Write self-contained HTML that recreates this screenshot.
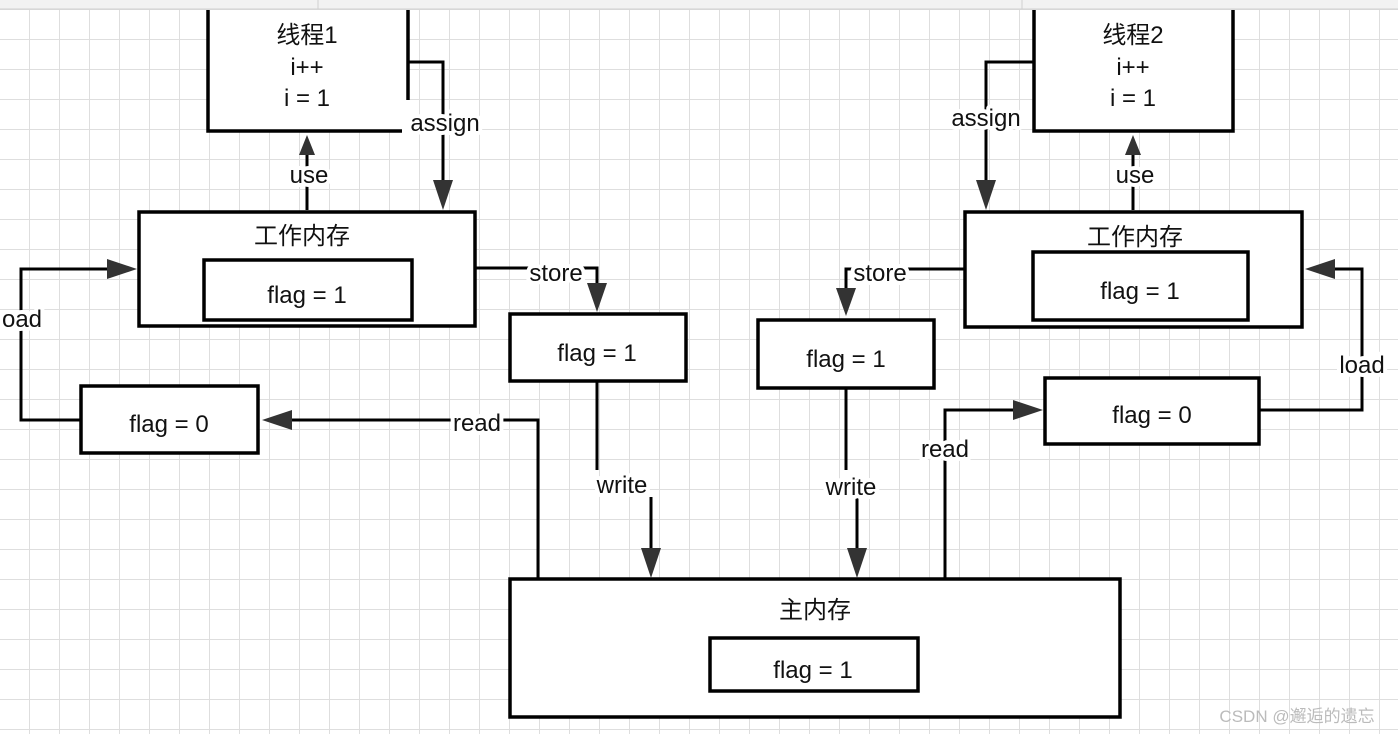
<!DOCTYPE html>
<html><head><meta charset="utf-8"><style>
html,body{margin:0;padding:0;background:#fff;}
svg{display:block;}
text{font-family:"Liberation Sans","Noto Sans CJK SC",sans-serif;font-size:24px;fill:#111;text-anchor:middle;}
.lb{paint-order:stroke;stroke:#fff;stroke-width:8px;stroke-linejoin:round;}
</style></head><body>
<svg width="1398" height="734" viewBox="0 0 1398 734" xmlns="http://www.w3.org/2000/svg">
<defs>
<pattern id="g" x="0" y="10" width="30" height="30" patternUnits="userSpaceOnUse">
<path d="M30 0V30M0 30H30" stroke="#dedede" stroke-width="2" fill="none"/>
</pattern>
</defs>
<rect width="1398" height="734" fill="url(#g)"/>
<rect width="1398" height="9" fill="#f2f2f2"/>
<line x1="0" y1="9" x2="1398" y2="9" stroke="#d0d0d0" stroke-width="1"/>
<line x1="318" y1="0" x2="318" y2="9" stroke="#d0d0d0"/>
<line x1="1022" y1="0" x2="1022" y2="9" stroke="#d0d0d0"/>
<rect x="208" y="10" width="200" height="121" fill="#fff"/>
<rect x="1034" y="10" width="199" height="121" fill="#fff"/>
<g stroke="#000" stroke-width="3.5" fill="none">
<path d="M208 10V131H402M408 10V100"/>
<path d="M1034 10V131H1233V10"/>
</g>
<g stroke="#000" stroke-width="3.5" fill="#fff">
<rect x="139" y="212" width="336" height="114"/>
<rect x="204" y="260" width="208" height="60"/>
<rect x="965" y="212" width="337" height="115"/>
<rect x="1033" y="252" width="215" height="68"/>
<rect x="510" y="314" width="176" height="67"/>
<rect x="758" y="320" width="176" height="68"/>
<rect x="81" y="386" width="177" height="67"/>
<rect x="1045" y="378" width="214" height="66"/>
<rect x="510" y="579" width="610" height="138"/>
<rect x="710" y="638" width="208" height="53"/>
</g>
<g stroke="#000" stroke-width="3" fill="none">
<path d="M408 62H443V200"/>
<path d="M1033 62H986V185"/>
<path d="M307 210V150"/>
<path d="M1133 210V150"/>
<path d="M475 268H597V290"/>
<path d="M965 269H846V295"/>
<path d="M597 381V470"/>
<path d="M651 497V560"/>
<path d="M846 388V470"/>
<path d="M857 497V560"/>
<path d="M538 578V420H290"/>
<path d="M945 578V410H1020"/>
<path d="M81 420H21V269H115"/>
<path d="M1259 410H1362V269H1330"/>
</g>
<g fill="#333">
<path d="M433 180L453 180L443 210z"/>
<path d="M976 180L996 180L986 210z"/>
<path d="M299 155L315 155L307 135z"/>
<path d="M1125 155L1141 155L1133 135z"/>
<path d="M587 283L607 283L597 312z"/>
<path d="M836 288L856 288L846 316z"/>
<path d="M641 548L661 548L651 578z"/>
<path d="M847 548L867 548L857 578z"/>
<path d="M292 410L292 430L262 420z"/>
<path d="M1013 400L1013 420L1043 410z"/>
<path d="M107 259L107 279L137 269z"/>
<path d="M1335 259L1335 279L1305 269z"/>
</g>
<text x="307" y="43">线程1</text>
<text x="307" y="75">i++</text>
<text x="307" y="106">i = 1</text>
<text x="1133" y="43">线程2</text>
<text x="1133" y="75">i++</text>
<text x="1133" y="106">i = 1</text>
<text x="302" y="244">工作内存</text>
<text x="1135" y="245">工作内存</text>
<text x="307" y="303">flag = 1</text>
<text x="1140" y="299">flag = 1</text>
<text x="597" y="361">flag = 1</text>
<text x="846" y="367">flag = 1</text>
<text x="169" y="432">flag = 0</text>
<text x="1152" y="423">flag = 0</text>
<text x="815" y="618">主内存</text>
<text x="813" y="678">flag = 1</text>
<text class="lb" x="445" y="131">assign</text>
<text class="lb" x="986" y="126">assign</text>
<text class="lb" x="309" y="183">use</text>
<text class="lb" x="1135" y="183">use</text>
<text class="lb" x="556" y="281">store</text>
<text class="lb" x="880" y="281">store</text>
<text class="lb" x="622" y="493">write</text>
<text class="lb" x="851" y="495">write</text>
<text class="lb" x="477" y="431">read</text>
<text class="lb" x="945" y="457">read</text>
<text class="lb" x="22" y="327">oad</text>
<text class="lb" x="1362" y="373">load</text>
<text x="1297" y="722" style="font-size:17px;fill:#bbb">CSDN @邂逅的遗忘</text>
</svg>
</body></html>
